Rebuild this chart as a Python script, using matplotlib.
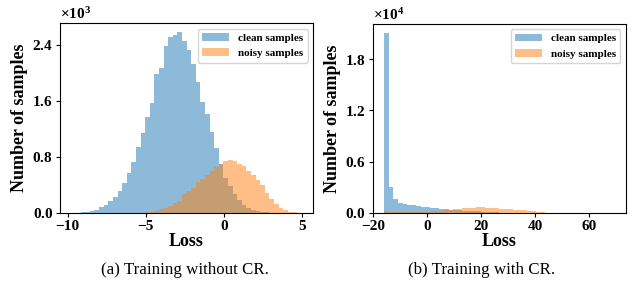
import numpy as np
import matplotlib
matplotlib.use("Agg")
import matplotlib.pyplot as plt
from matplotlib.ticker import ScalarFormatter

plt.rcParams['font.family'] = ['Liberation Serif', 'DejaVu Serif']
plt.rcParams['font.weight'] = 'bold'
plt.rcParams['mathtext.fontset'] = 'custom'
plt.rcParams['mathtext.rm'] = 'Liberation Serif:bold'
plt.rcParams['mathtext.default'] = 'regular'

# (a) training without CR: 50 bins between these edges
loss_range_a = (-9.75, 4.98)
clean_a = [2, 5, 8, 14, 24, 39, 82, 111, 168, 226,
           312, 428, 572, 730, 946, 1148, 1366, 1575, 1983, 2069,
           2391, 2511, 2544, 2583, 2463, 2328, 2127, 1872, 1584, 1417,
           1150, 925, 700, 505, 389, 274, 183, 121, 75, 39,
           24, 14, 8, 4, 2, 1, 1, 0, 0, 0]
noisy_a = [0, 0, 0, 0, 0, 0, 0, 0, 0, 0,
           0, 1, 1, 2, 3, 5, 10, 20, 29, 58,
           72, 101, 144, 168, 274, 308, 360, 442, 490, 543,
           605, 658, 701, 745, 759, 740, 705, 665, 595, 545,
           475, 400, 280, 207, 135, 78, 39, 20, 8, 3]

# (b) training with CR
loss_range_b = (-15.94, 69.3)
clean_b = [21080, 3045, 1604, 1171, 1054, 960, 900, 866, 703, 667,
           632, 586, 515, 468, 398, 351, 310, 270, 240, 210,
           180, 150, 120, 95, 75, 55, 40, 30, 20, 14,
           10, 7, 5, 3, 2, 1, 1, 1, 1, 1,
           1, 1, 1, 1, 1, 1, 1, 1, 1, 1]
noisy_b = [200, 120, 110, 110, 110, 120, 130, 140, 150, 170,
           190, 220, 260, 300, 350, 420, 480, 540, 600, 640,
           660, 650, 620, 580, 540, 500, 460, 420, 380, 340,
           300, 250, 200, 150, 60, 0, 0, 0, 0, 0,
           0, 0, 0, 0, 0, 0, 0, 0, 0, 0]

yticks_a = [0, 800, 1600, 2400]
yticks_b = [0, 6000, 12000, 18000]
xticks_a = [-10, -5, 0, 5]
xticks_b = [-20, 0, 20, 40, 60]


def draw_hist(ax, loss_range, clean, noisy, xticks, yticks):
    edges = np.linspace(loss_range[0], loss_range[1], len(clean) + 1)
    centers = (edges[:-1] + edges[1:]) / 2
    ax.hist(centers, bins=edges, weights=clean, alpha=0.5, label='clean samples')
    ax.hist(centers, bins=edges, weights=noisy, alpha=0.5, label='noisy samples')

    ax.set_xticks(xticks)
    ax.set_yticks(yticks)
    fmt = ScalarFormatter(useMathText=True)
    fmt.set_powerlimits((0, 0))
    ax.yaxis.set_major_formatter(fmt)
    ax.yaxis.get_offset_text().set_fontsize(11)
    ax.yaxis.get_offset_text().set_fontweight('bold')
    ax.tick_params(labelsize=11, length=3, pad=2)
    ax.set_xlabel('Loss', fontsize=13, fontweight='bold', labelpad=0)
    ax.set_ylabel('Number of samples', fontsize=13, fontweight='bold', labelpad=3)
    ax.legend(loc='upper right', prop={'size': 8, 'weight': 'bold'}, handlelength=2.4)


fig = plt.figure(figsize=(6.36, 2.89), dpi=100)
ax1 = fig.add_axes([0.0943, 0.263, 0.398, 0.657])
ax2 = fig.add_axes([0.586, 0.263, 0.398, 0.655])

draw_hist(ax1, loss_range_a, clean_a, noisy_a, xticks_a, yticks_a)
draw_hist(ax2, loss_range_b, clean_b, noisy_b, xticks_b, yticks_b)

fig.text(184.5 / 636, 1 - 270 / 289, '(a) Training without CR.', ha='center', va='center',
         fontsize=12.2, fontweight='normal')
fig.text(481.5 / 636, 1 - 270 / 289, '(b) Training with CR.', ha='center', va='center',
         fontsize=12.2, fontweight='normal')

plt.savefig('out.png', dpi=100)
